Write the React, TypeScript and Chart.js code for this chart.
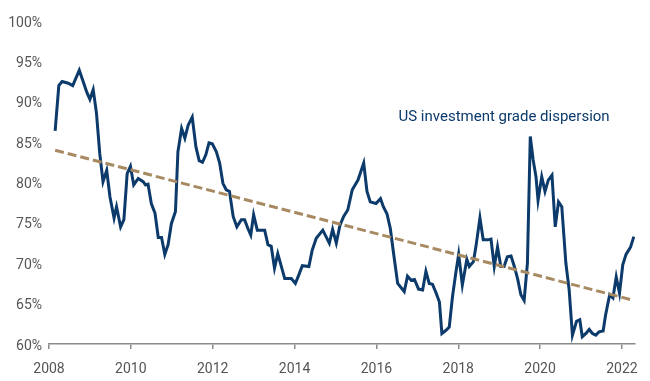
import React, { useEffect, useRef } from "react";
import { Chart, registerables } from "chart.js";

Chart.register(...registerables);

const YEARS = [
  2008.15, 2008.24, 2008.32, 2008.47, 2008.58, 2008.74, 2008.93, 2009.0, 2009.08, 2009.16,
  2009.24, 2009.32, 2009.41, 2009.49, 2009.59, 2009.65, 2009.75, 2009.83, 2009.91, 2009.99,
  2010.07, 2010.18, 2010.3, 2010.36, 2010.42, 2010.5, 2010.59, 2010.67, 2010.75, 2010.83,
  2010.91, 2010.99, 2011.09, 2011.15, 2011.24, 2011.32, 2011.4, 2011.5, 2011.59, 2011.67,
  2011.75, 2011.83, 2011.91, 2011.99, 2012.09, 2012.17, 2012.25, 2012.33, 2012.41, 2012.5,
  2012.59, 2012.7, 2012.78, 2012.86, 2012.93, 2013.0, 2013.09, 2013.27, 2013.35, 2013.43,
  2013.51, 2013.59, 2013.76, 2013.92, 2014.02, 2014.1, 2014.19, 2014.35, 2014.43, 2014.53,
  2014.69, 2014.85, 2014.93, 2015.02, 2015.11, 2015.2, 2015.3, 2015.41, 2015.55, 2015.69,
  2015.77, 2015.85, 2015.99, 2016.1, 2016.17, 2016.26, 2016.34, 2016.42, 2016.52, 2016.68,
  2016.76, 2016.85, 2016.93, 2017.03, 2017.13, 2017.21, 2017.29, 2017.37, 2017.46, 2017.54,
  2017.6, 2017.7, 2017.78, 2017.86, 2017.94, 2018.01, 2018.1, 2018.21, 2018.27, 2018.37,
  2018.43, 2018.53, 2018.61, 2018.72, 2018.8, 2018.88, 2018.96, 2019.04, 2019.12, 2019.2,
  2019.29, 2019.37, 2019.45, 2019.53, 2019.61, 2019.69, 2019.76, 2019.83, 2019.9, 2019.95,
  2020.04, 2020.12, 2020.2, 2020.29, 2020.37, 2020.45, 2020.53, 2020.63, 2020.71, 2020.79,
  2020.89, 2020.97, 2021.03, 2021.12, 2021.2, 2021.28, 2021.36, 2021.44, 2021.54, 2021.6,
  2021.7, 2021.78, 2021.86, 2021.94, 2022.02, 2022.1, 2022.21, 2022.29,
];

const DISPERSION = [
  86.4, 92.0, 92.5, 92.3, 92.0, 93.9, 91.1, 90.3, 91.5, 88.6,
  83.6, 80.1, 81.5, 78.2, 75.6, 77.0, 74.5, 75.4, 81.1, 82.0,
  79.7, 80.5, 80.1, 79.7, 79.8, 77.4, 76.2, 73.2, 73.2, 71.1,
  72.3, 74.9, 76.4, 83.8, 86.7, 85.5, 87.1, 88.1, 84.4, 82.7,
  82.5, 83.4, 84.9, 84.8, 83.8, 82.4, 79.9, 79.1, 78.9, 75.8,
  74.5, 75.4, 75.4, 74.3, 73.5, 76.0, 74.1, 74.1, 72.3, 72.1,
  69.4, 71.2, 68.1, 68.1, 67.5, 68.5, 69.7, 69.6, 71.6, 73.1,
  74.1, 72.5, 74.2, 72.5, 74.7, 75.8, 76.6, 79.1, 80.3, 82.4,
  78.9, 77.6, 77.4, 78.0, 77.0, 76.1, 74.3, 71.2, 67.5, 66.5,
  68.4, 67.9, 68.0, 66.8, 66.7, 69.0, 67.5, 67.4, 66.3, 65.2,
  61.3, 61.7, 62.1, 65.9, 68.8, 71.1, 67.3, 70.5, 69.6, 70.2,
  72.0, 75.6, 72.9, 72.9, 73.0, 69.6, 72.0, 69.6, 69.6, 70.8,
  70.9, 69.6, 68.1, 66.1, 65.4, 70.0, 85.7, 82.8, 80.7, 77.8,
  80.7, 78.9, 80.3, 80.9, 74.5, 77.6, 77.0, 70.0, 66.7, 61.1,
  62.8, 63.0, 60.9, 61.3, 61.8, 61.3, 61.1, 61.5, 61.6, 63.6,
  66.1, 65.7, 68.3, 66.3, 69.8, 71.1, 72.0, 73.3,
];

const TREND_YEARS = [2008.15, 2022.29];
const TREND_VALUES = [84.0, 65.4];

const X_TICKS = [2008, 2010, 2012, 2014, 2016, 2018, 2020, 2022];
const Y_TICKS = [60, 65, 70, 75, 80, 85, 90, 95, 100];

const SERIES_LABEL = "US investment grade dispersion";
const LABEL_AT = { x: 2016.54, y: 87.6 };

const BLUE = "#0b3a6b";
const TAN = "#a88a62";
const GREY_TEXT = "#555555";

export default function App() {
  const ref = useRef<HTMLCanvasElement | null>(null);

  useEffect(() => {
    document.body.style.margin = "0";
    const canvas = ref.current;
    if (!canvas) return;

    const labelPlugin = {
      id: "seriesLabel",
      afterDatasetsDraw(chart: any) {
        const { ctx, scales } = chart;
        const px = scales.x.getPixelForValue(LABEL_AT.x);
        const py = scales.y.getPixelForValue(LABEL_AT.y);
        ctx.save();
        ctx.font = "15px Roboto";
        ctx.fillStyle = BLUE;
        ctx.textAlign = "left";
        ctx.textBaseline = "alphabetic";
        ctx.fillText(SERIES_LABEL, px, py);
        ctx.restore();
      },
    };

    const chart = new Chart(canvas, {
      type: "line",
      data: {
        datasets: [
          {
            label: SERIES_LABEL,
            data: YEARS.map((x, i) => ({ x, y: DISPERSION[i] })),
            borderColor: BLUE,
            borderWidth: 3,
            pointRadius: 0,
            tension: 0,
            fill: false,
            order: 1,
          },
          {
            label: "Trend",
            data: TREND_YEARS.map((x, i) => ({ x, y: TREND_VALUES[i] })),
            borderColor: TAN,
            borderWidth: 3,
            borderDash: [9, 4],
            pointRadius: 0,
            fill: false,
            order: 0,
          },
        ],
      },
      options: {
        animation: false,
        responsive: true,
        maintainAspectRatio: false,
        layout: { padding: { left: 0, right: 14, top: 21, bottom: 0 } },
        plugins: {
          legend: { display: false },
          tooltip: { enabled: false },
        },
        scales: {
          x: {
            type: "linear",
            min: 2008,
            max: 2022.32,
            afterBuildTicks: (scale: any) => {
              scale.ticks = X_TICKS.map((v) => ({ value: v }));
            },
            afterFit: (scale: any) => {
              scale.height = 37;
            },
            ticks: {
              color: GREY_TEXT,
              font: { family: "Roboto", size: 14 },
              padding: 12,
              maxRotation: 0,
              autoSkip: false,
              callback: (v: any) => String(v),
            },
            grid: {
              display: true,
              drawOnChartArea: false,
              drawTicks: true,
              tickLength: 5,
              color: "#8a8a8a",
              lineWidth: 1.5,
            },
            border: { display: true, color: "#8a8a8a", width: 1.5 },
          },
          y: {
            type: "linear",
            min: 60,
            max: 100,
            afterBuildTicks: (scale: any) => {
              scale.ticks = Y_TICKS.map((v) => ({ value: v }));
            },
            afterFit: (scale: any) => {
              scale.width = 49;
            },
            ticks: {
              color: GREY_TEXT,
              font: { family: "Roboto", size: 14 },
              padding: 7,
              labelOffset: 2,
              callback: (v: any) => v + "%",
            },
            grid: { display: false, drawTicks: false },
            border: { display: false },
          },
        },
      },
      plugins: [labelPlugin],
    });

    return () => chart.destroy();
  }, []);

  return (
    <div style={{ position: "relative", width: 650, height: 381 }}>
      <canvas ref={ref} />
    </div>
  );
}
